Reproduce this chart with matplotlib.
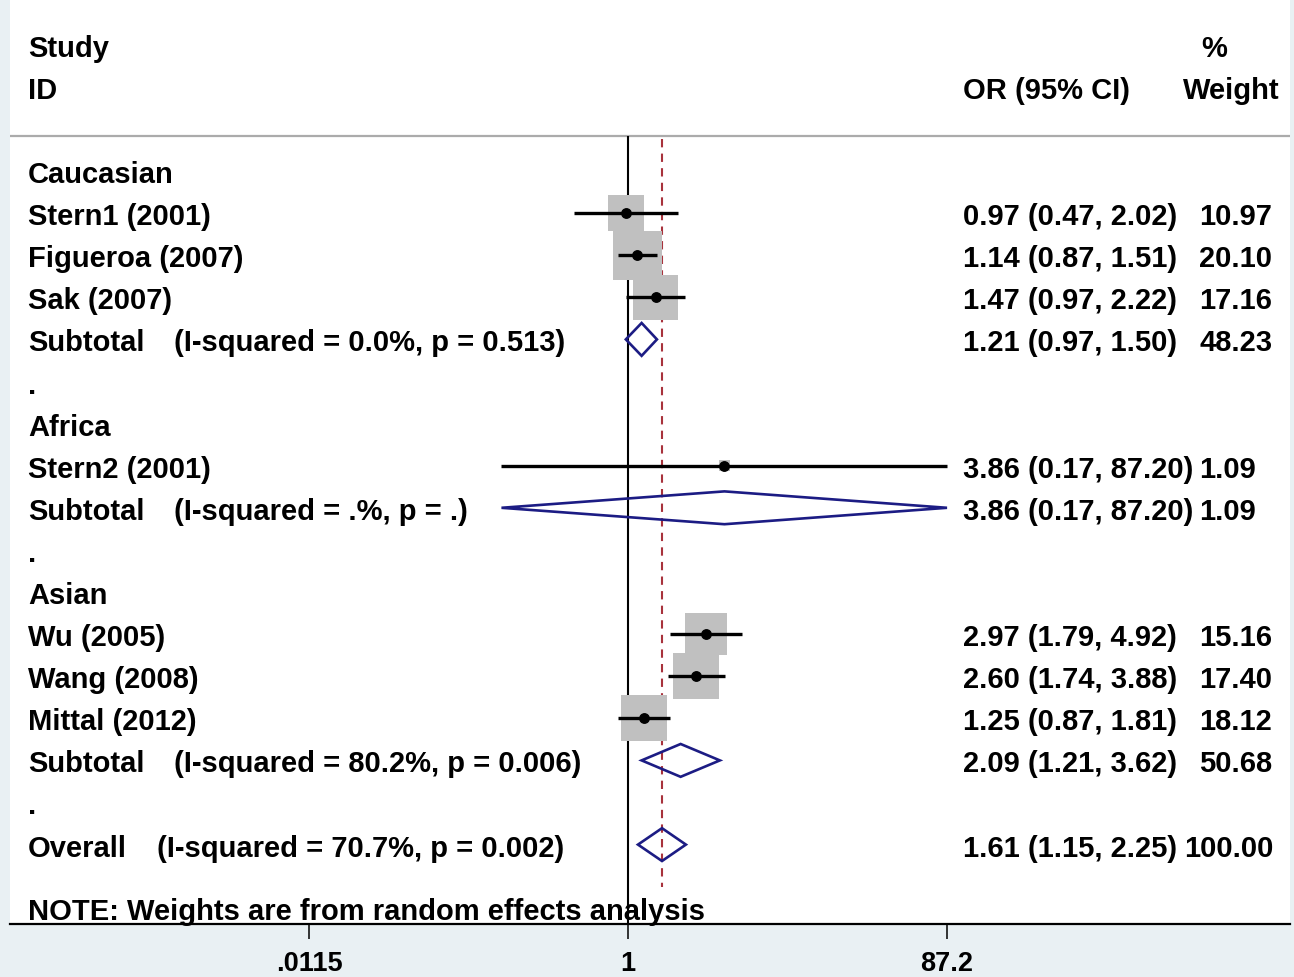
import matplotlib
matplotlib.use("Agg")
import matplotlib.pyplot as plt
from matplotlib.patches import Polygon
from matplotlib.transforms import blended_transform_factory
from matplotlib import font_manager
import numpy as np

# ---------------- data ----------------
labels = ["Caucasian", "Stern1 (2001)", "Figueroa (2007)", "Sak (2007)", "Subtotal", ".",
          "Africa", "Stern2 (2001)", "Subtotal", ".",
          "Asian", "Wu (2005)", "Wang (2008)", "Mittal (2012)", "Subtotal", ".",
          "Overall"]
kinds = ["group", "study", "study", "study", "subtotal", "gap",
         "group", "study", "subtotal", "gap",
         "group", "study", "study", "study", "subtotal", "gap",
         "overall"]
or_est = [None, 0.97, 1.14, 1.47, 1.21, None,
          None, 3.86, 3.86, None,
          None, 2.97, 2.60, 1.25, 2.09, None,
          1.61]
ci_lo = [None, 0.47, 0.87, 0.97, 0.97, None,
         None, 0.17, 0.17, None,
         None, 1.79, 1.74, 0.87, 1.21, None,
         1.15]
ci_hi = [None, 2.02, 1.51, 2.22, 1.50, None,
         None, 87.20, 87.20, None,
         None, 4.92, 3.88, 1.81, 3.62, None,
         2.25]
weights = [None, 10.97, 20.10, 17.16, 48.23, None,
           None, 1.09, 1.09, None,
           None, 15.16, 17.40, 18.12, 50.68, None,
           100.00]
het_text = {4: "(I-squared = 0.0%, p = 0.513)",
            8: "(I-squared = .%, p = .)",
            14: "(I-squared = 80.2%, p = 0.006)",
            16: "(I-squared = 70.7%, p = 0.002)"}
tick_values = [0.0115, 1, 87.2]
tick_labels = [".0115", "1", "87.2"]
note = "NOTE: Weights are from random effects analysis"

# ---------------- fonts ----------------
avail = {f.name for f in font_manager.fontManager.ttflist}
main_font = "Liberation Sans" if "Liberation Sans" in avail else "DejaVu Sans"
narrow_font = "Liberation Sans Narrow" if "Liberation Sans Narrow" in avail else main_font

# ---------------- figure ----------------
W, H = 1294, 978
fig = plt.figure(figsize=(W / 100, H / 100), dpi=100, facecolor="#e9f0f3")
ax_l, ax_r, ax_t, ax_b = 10, 1290, 0, 925
ax = fig.add_axes([ax_l / W, (H - ax_b) / H, (ax_r - ax_l) / W, (ax_b - ax_t) / H])
ax.set_facecolor("white")

# x mapping: 1 at px 628, 164.4 px per decade
px_dec = 164.4
x1 = 628
ax.set_xscale("log")
ax.set_xlim(10 ** ((ax_l - x1) / px_dec), 10 ** ((ax_r - x1) / px_dec))
row0, row_h = 172, 42.1
ax.set_ylim((ax_b - row0) / row_h, (ax_t - row0) / row_h)

for s in ["top", "left", "right"]:
    ax.spines[s].set_visible(False)
ax.spines["bottom"].set_linewidth(1.6)
ax.spines["bottom"].set_color("black")
ax.set_yticks([])
ax.set_xticks(tick_values)
ax.set_xticklabels(tick_labels)
ax.minorticks_off()
ax.tick_params(axis="x", which="major", direction="out", length=11, width=1.1,
               pad=8, labelsize=19.5)
for t in ax.get_xticklabels():
    t.set_fontfamily(narrow_font)
    t.set_fontweight("bold")

def fx(px):
    return (px - ax_l) / (ax_r - ax_l)

tr = blended_transform_factory(ax.transAxes, ax.transData)
txt = dict(fontsize=21, fontweight="bold", family=main_font, va="center_baseline",
           color="black", transform=tr)

# header
ax.text(fx(28), -3, "Study", **txt)
ax.text(fx(28), -2, "ID", **txt)
ax.text(fx(963), -2, "OR (95% CI)", **txt)
ax.text(fx(1214), -3, "%", ha="center", **txt)
ax.text(fx(1183), -2, "Weight", **txt)
y_line = (137 - row0) / row_h
ax.plot([0, 1], [y_line, y_line], transform=tr, color="#ababab", lw=1.6, zorder=1)

# reference lines
ax.plot([1, 1], [y_line, (ax_b - row0) / row_h], color="black", lw=1.5, zorder=1,
        solid_capstyle="butt")
overall_idx = kinds.index("overall")
ax.plot([or_est[overall_idx]] * 2, [y_line + 0.08, 17.0], color="#a8323c", lw=1.5,
        dashes=(4, 3), zorder=1)

# rows
for i, (lab, kind) in enumerate(zip(labels, kinds)):
    ax.text(fx(28), i, lab, **txt)
    if i in het_text:
        ax.text(fx(157 if kind == "overall" else 174), i, het_text[i], **txt)
    if or_est[i] is None:
        continue
    ax.text(fx(963), i, f"{or_est[i]:.2f} ({ci_lo[i]:.2f}, {ci_hi[i]:.2f})", **txt)
    ax.text(fx(1184 if weights[i] >= 100 else 1199), i, f"{weights[i]:.2f}", **txt)
    if kind == "study":
        side_pt = 10.9 * np.sqrt(weights[i]) * 0.72
        ax.scatter([or_est[i]], [i], marker="s", s=side_pt ** 2, color="#c0c0c0",
                   edgecolors="none", zorder=2)
        ax.plot([ci_lo[i], ci_hi[i]], [i, i], color="black", lw=2.4, zorder=3,
                solid_capstyle="butt")
        ax.plot([or_est[i]], [i], marker="o", ms=6.8, color="black", zorder=4)
    else:
        h = 0.39
        poly = Polygon([(ci_lo[i], i), (or_est[i], i - h), (ci_hi[i], i), (or_est[i], i + h)],
                       closed=True, facecolor="none", edgecolor="#1c1c84", lw=1.9, zorder=3)
        ax.add_patch(poly)

# note
ax.text(fx(28), 17.5, note, fontsize=21, fontweight="bold", family=narrow_font,
        va="center_baseline", transform=tr)

fig.savefig("out.png", dpi=100, facecolor=fig.get_facecolor())
